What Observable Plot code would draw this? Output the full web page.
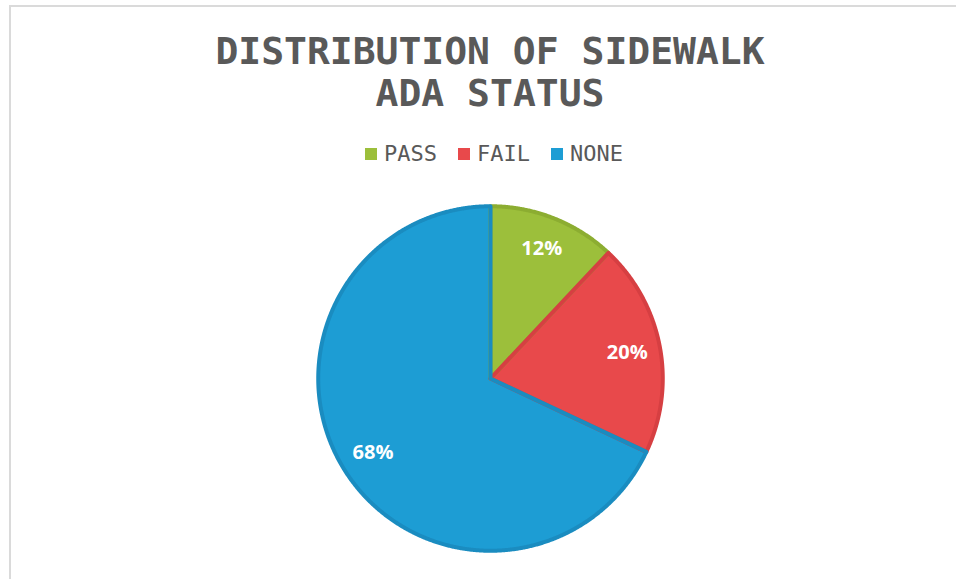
<!DOCTYPE html>
<html>
<head>
<meta charset="utf-8">
<script src="https://cdn.jsdelivr.net/npm/d3@7"></script>
<script src="https://cdn.jsdelivr.net/npm/@observablehq/plot@0.6"></script>
<style>
  html, body { margin: 0; padding: 0; background: #ffffff; }
  body { width: 956px; height: 579px; overflow: hidden; position: relative; font-family: "DejaVu Sans Mono", monospace; }
  #frame { position: absolute; left: 9px; top: 5px; width: 1000px; height: 700px; border-left: 2px solid #dadada; border-top: 2px solid #dadada; z-index: 3; pointer-events: none; }
  #title { position: absolute; left: 0; top: 30px; width: 980px; text-align: center; font-size: 38px; line-height: 42px; font-weight: bold; color: #595959; }
  #legend { position: absolute; left: 365px; top: 141px; display: flex; align-items: center; font-size: 22px; line-height: 26px; color: #595959; }
  .item { display: flex; align-items: center; margin-right: 21px; }
  .sw { width: 12px; height: 12px; margin-right: 7px; }
  #chart { position: absolute; left: 0; top: 180px; }
</style>
</head>
<body>
<div id="frame"></div>
<div id="title">DISTRIBUTION OF SIDEWALK<br>ADA STATUS</div>
<div id="legend"></div>
<div id="chart"></div>
<script>
// ---- data ----
const categories = ["PASS", "FAIL", "NONE"];
const values = [12, 20, 68];
const labels = ["12%", "20%", "68%"];

// ---- styles ----
const colors = ["#9cbf3b", "#e8494b", "#1d9dd4"];
const edgeColors = ["#8cad31", "#d63f42", "#1a8cc0"];

// legend
const legend = document.getElementById("legend");
categories.forEach((c, i) => {
  const it = document.createElement("div");
  it.className = "item";
  const sw = document.createElement("div");
  sw.className = "sw";
  sw.style.background = colors[i];
  const t = document.createElement("span");
  t.textContent = c;
  it.appendChild(sw);
  it.appendChild(t);
  legend.appendChild(it);
});

// pie geometry from data
const arcs = d3.pie().sort(null)(values);
const R = 0.99;
const slices = arcs.map((a, i) => {
  const pts = [{x: 0, y: 0}];
  const n = Math.max(2, Math.ceil((a.endAngle - a.startAngle) / 0.005));
  for (let k = 0; k <= n; k++) {
    const t = a.startAngle + (a.endAngle - a.startAngle) * k / n;
    pts.push({x: R * Math.sin(t), y: R * Math.cos(t)});
  }
  pts.push({x: 0, y: 0});
  return pts;
});
const labelData = arcs.map((a, i) => {
  const m = (a.startAngle + a.endAngle) / 2;
  return {x: 0.8 * Math.sin(m), y: 0.8 * Math.cos(m), text: labels[i]};
});

const plot = Plot.plot({
  width: 956,
  height: 399,
  marginLeft: 316,
  marginRight: 292,
  marginTop: 24,
  marginBottom: 27,
  style: {background: "none"},
  x: {domain: [-1, 1], axis: null},
  y: {domain: [-1, 1], axis: null},
  marks: [
    ...slices.map((pts, i) => Plot.line(pts, {x: "x", y: "y", fill: colors[i], stroke: "none"})),
    ...slices.map((pts, i) => Plot.line(pts, {x: "x", y: "y", fill: "none", stroke: edgeColors[i], strokeWidth: 4, strokeLinejoin: "round"})),
    Plot.text(labelData, {x: "x", y: "y", text: "text", fill: "white", fontSize: 20, fontWeight: "bold", fontFamily: "Open Sans"})
  ]
});
document.getElementById("chart").appendChild(plot);
</script>
</body>
</html>
